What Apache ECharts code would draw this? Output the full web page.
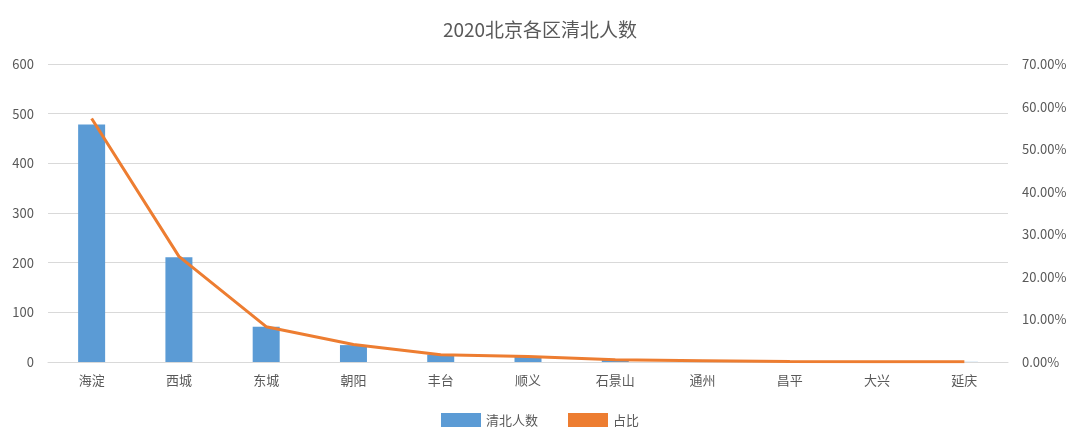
<!DOCTYPE html><html><head><meta charset="utf-8"><script src="https://cdn.jsdelivr.net/npm/echarts@6/dist/echarts.min.js"></script></head><body style="margin:0;background:#fff"><div id="c" style="width:1080px;height:442px"></div><script>
const categories=['海淀','西城','东城','朝阳','丰台','顺义','石景山','通州','昌平','大兴','延庆'];
const counts=[478,211,71,34,15,10,4,2,1,0.5,0.3];
const shares=[57.2,24.8,8.3,4.1,1.7,1.3,0.5,0.3,0.1,0.06,0.03];
const leftTicks=[0,100,200,300,400,500,600];
const c=echarts.init(document.getElementById('c'));
const ff='"Noto Sans CJK SC","Noto Sans",sans-serif';
c.setOption({animation:false,textStyle:{fontFamily:ff},
title:{text:'2020北京各区清北人数',left:'center',top:15,textStyle:{fontSize:19,fontWeight:'normal',color:'#595959',fontFamily:ff}},
legend:{bottom:10,itemGap:30,textStyle:{color:'#595959',fontSize:13},data:[{name:'清北人数',icon:'rect',itemHeight:6},{name:'占比',icon:'rect',itemHeight:3}],itemWidth:40},
grid:{left:48,right:72,top:64,bottom:80},
xAxis:{type:'category',data:categories,axisTick:{show:false},axisLine:{lineStyle:{color:'#d9d9d9'}},axisLabel:{color:'#595959',fontSize:13,margin:12}},
yAxis:[{type:'value',min:0,max:leftTicks[leftTicks.length-1],interval:100,axisLabel:{color:'#595959',fontSize:13,margin:14},splitLine:{lineStyle:{color:'#d9d9d9'}},axisLine:{show:false}},
{type:'value',min:0,max:70,interval:10,axisLabel:{color:'#595959',fontSize:13,margin:14,formatter:v=>v.toFixed(2)+'%'},splitLine:{show:false},axisLine:{show:false}}],
series:[{name:'清北人数',type:'bar',data:counts,barWidth:27,itemStyle:{color:'#5b9bd5'}},
{name:'占比',type:'line',yAxisIndex:1,data:shares,symbol:'none',lineStyle:{color:'#ed7d31',width:3},itemStyle:{color:'#ed7d31'}}]});
</script></body></html>
